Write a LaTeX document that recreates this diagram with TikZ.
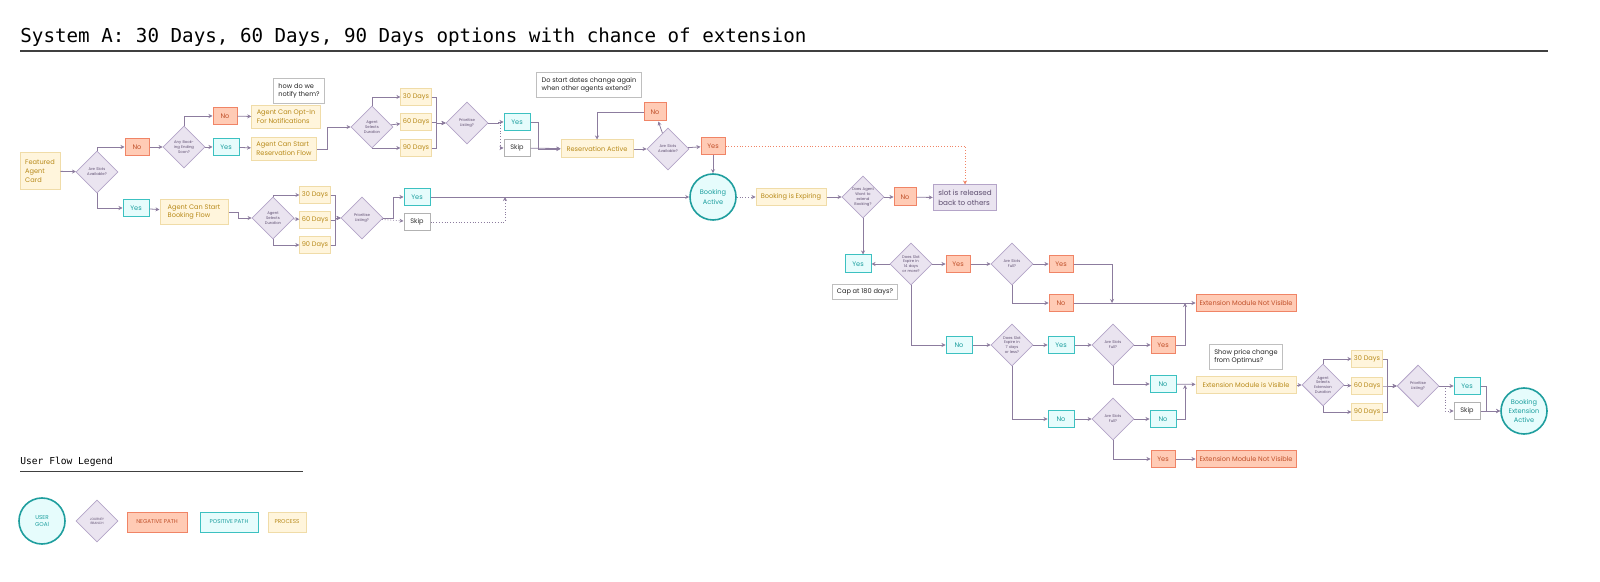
\documentclass[tikz,border=0pt]{standalone}
\usepackage{fontspec}
\setmainfont{Poppins}
\newfontfamily\monofam{DejaVu Sans Mono}
\usetikzlibrary{shapes.geometric,arrows.meta}
\definecolor{lineC}{HTML}{8C7C9E}
\definecolor{negF}{HTML}{FFCBB5}
\definecolor{negD}{HTML}{F08466}
\definecolor{negT}{HTML}{C0502A}
\definecolor{posF}{HTML}{E6FCFC}
\definecolor{posD}{HTML}{3CC1C1}
\definecolor{posT}{HTML}{1A9E9E}
\definecolor{proF}{HTML}{FFF5DC}
\definecolor{proD}{HTML}{F0DCA8}
\definecolor{proT}{HTML}{B88A1A}
\definecolor{diaF}{HTML}{EAE4F0}
\definecolor{diaD}{HTML}{B4A4C8}
\definecolor{diaT}{HTML}{5E4E70}
\definecolor{goalD}{HTML}{1F9E9E}
\tikzset{
  box/.style={rectangle, draw, line width=0.5pt, inner sep=1pt, font=\fontsize{3.3}{4.3}\selectfont, align=left},
  negbox/.style={box, fill=negF, draw=negD, text=negT, minimum width=12pt, minimum height=8.5pt},
  posbox/.style={box, fill=posF, draw=posD, text=posT, minimum width=13pt, minimum height=8.5pt},
  proc/.style={box, fill=proF, draw=proD, text=proT, inner sep=2.5pt},
  days/.style={proc, inner sep=1pt, minimum width=15pt, minimum height=8.5pt},
  skip/.style={box, fill=white, draw=gray!60, text=black!80, minimum width=13pt, minimum height=8.5pt},
  note/.style={box, fill=white, draw=gray!50, text=black!85, inner sep=2.5pt},
  dia/.style={diamond, draw=diaD, fill=diaF, text=diaT, line width=0.4pt, aspect=1, inner sep=0pt,
    minimum size=21pt, text width=11.5pt, align=center, font=\fontsize{1.9}{2.4}\selectfont},
  goal/.style={circle, draw=goalD, fill=posF, text=posT, line width=0.8pt, minimum size=23pt,
    inner sep=0pt, align=center, font=\fontsize{3.3}{4.6}\selectfont},
  flow/.style={draw=lineC, line width=0.4pt, -{Stealth[length=2pt,width=2pt]}},
  dflow/.style={flow, densely dotted},
}
\begin{document}
\begin{tikzpicture}[x=0.5pt, y=-0.5pt]
% title and legend headings
\node[anchor=west, inner sep=0pt, font=\monofam\fontsize{9.6}{11}\selectfont] (title) at (20,37) {System A: 30 Days, 60 Days, 90 Days options with chance of extension};
\draw[black!75, line width=0.6pt] (20,51) -- (1548,51);
\node[anchor=west, inner sep=0pt, font=\monofam\fontsize{4.8}{6}\selectfont] (legtitle) at (20,462) {User Flow Legend};
\draw[black!75, line width=0.5pt] (20,471) -- (303,471);

% reservation path
\node[proc, minimum width=20pt, minimum height=18.5pt] (card) at (40,171) {Featured\\Agent\\Card};
\node[dia] (slots1) at (97,172) {Are Slots Available?};
\node[negbox] (no1) at (137,147) {No};
\node[posbox] (yes1) at (136,208) {Yes};
\node[dia] (ending) at (184,147) {Any Booking Ending Soon?};
\node[negbox] (no2) at (225,116) {No};
\node[posbox] (yes2) at (226,147) {Yes};
\node[proc, minimum width=34pt] (optin) at (286,117) {Agent Can Opt-In\\For Notifications};
\node[proc, minimum width=32pt] (resflow) at (284,149) {Agent Can Start\\Reservation Flow};
\node[note] (notify) at (299,91) {how do we\\notify them?};
\node[dia] (dur1) at (372,127) {Agent Selects Duration};
\node[days] (d30a) at (416,97) {30 Days};
\node[days] (d60a) at (416,122) {60 Days};
\node[days] (d90a) at (416,148) {90 Days};
\node[dia] (prio1) at (467,123) {Prioritise Listing?};
\node[posbox] (yes3) at (517,122) {Yes};
\node[skip] (skip1) at (517,148) {Skip};
\node[proc, inner sep=1pt, minimum width=36pt, minimum height=9pt] (resact) at (597,149) {Reservation Active};
\node[note] (dates) at (589,85) {Do start dates change again\\when other agents extend?};
\node[dia] (slots2) at (668,149) {Are Slots Available?};
\node[negbox, minimum width=11pt, minimum height=9pt] (no3) at (655,112) {No};
\node[negbox] (yes4) at (713,146) {Yes};
\node[goal] (bact) at (713,197) {Booking\\Active};

% booking path
\node[proc, minimum width=34pt] (bflow) at (194,212) {Agent Can Start\\Booking Flow};
\node[dia] (dur2) at (273,218) {Agent Selects Duration};
\node[days] (d30b) at (315,195) {30 Days};
\node[days] (d60b) at (315,220) {60 Days};
\node[days] (d90b) at (315,245) {90 Days};
\node[dia] (prio2) at (362,218) {Prioritise Listing?};
\node[posbox] (yes5) at (417,197) {Yes};
\node[skip] (skip2) at (417,222) {Skip};

% expiry path
\node[proc, inner sep=1pt, minimum width=35pt, minimum height=8.5pt] (expir) at (791,197) {Booking is Expiring};
\node[dia] (extend) at (863,197) {Does Agent Want to extend Booking?};
\node[negbox, minimum width=11pt, minimum height=9pt] (no4) at (905,197) {No};
\node[box, fill=diaF, draw=diaD, text=diaT, inner sep=2.5pt, minimum width=29pt, minimum height=13pt, font=\fontsize{3.6}{4.8}\selectfont] (release) at (965,198) {slot is released\\back to others};
\node[posbox, minimum height=9pt] (yes6) at (858,264) {Yes};
\node[note, inner sep=2pt] (cap) at (865,292) {Cap at 180 days?};
\node[dia] (exp14) at (911,264) {Does Slot Expire in 14 days or more?};
\node[negbox] (yes7) at (958,264) {Yes};
\node[dia] (full1) at (1012,264) {Are Slots Full?};
\node[negbox] (yes8) at (1061,264) {Yes};
\node[negbox] (no5) at (1061,303) {No};
\node[negbox, minimum width=50pt] (notvis1) at (1246,303) {Extension Module Not Visible};
\node[posbox] (no6) at (959,345) {No};
\node[dia] (exp7) at (1012,345) {Does Slot Expire in 7 days or less?};
\node[posbox] (yes9) at (1061,345) {Yes};
\node[dia] (full2) at (1113,345) {Are Slots Full?};
\node[negbox] (yes10) at (1163,345) {Yes};
\node[posbox] (no7) at (1163,384) {No};
\node[proc, inner sep=1pt, minimum width=50pt, minimum height=8.5pt] (vis) at (1246,385) {Extension Module is Visible};
\node[note] (price) at (1246,357) {Show price change\\from Optimus?};
\node[posbox] (no8) at (1061,419) {No};
\node[dia] (full3) at (1113,419) {Are Slots Full?};
\node[posbox] (no9) at (1163,419) {No};
\node[negbox] (yes11) at (1163,459) {Yes};
\node[negbox, minimum width=50pt] (notvis2) at (1246,459) {Extension Module Not Visible};
\node[dia] (dur3) at (1323,385) {Agent Selects Extension Duration};
\node[days] (d30c) at (1367,359) {30 Days};
\node[days] (d60c) at (1367,386) {60 Days};
\node[days] (d90c) at (1367,412) {90 Days};
\node[dia] (prio3) at (1418,386) {Prioritise Listing?};
\node[posbox] (yes12) at (1467,386) {Yes};
\node[skip] (skip3) at (1467,411) {Skip};
\node[goal] (extact) at (1524,411) {Booking\\Extension\\Active};

% legend
\node[goal, font=\fontsize{2.8}{3.8}\selectfont] (lgoal) at (42,521) {USER\\GOAl};
\node[dia, font=\fontsize{1.6}{2.1}\selectfont] (lbranch) at (97,521) {JOURNEY BRANCH};
\node[negbox, minimum width=30pt, minimum height=10pt, font=\fontsize{2.8}{3.5}\selectfont] (lneg) at (157,522) {NEGATIVE PATH};
\node[posbox, minimum width=29pt, minimum height=10pt, font=\fontsize{2.8}{3.5}\selectfont] (lpos) at (229,522) {POSITIVE PATH};
\node[proc, inner sep=1pt, minimum width=19pt, minimum height=10pt, font=\fontsize{2.8}{3.5}\selectfont] (lproc) at (287,522) {PROCESS};

% connectors: reservation path
\draw[flow] (card) -- (slots1);
\draw[flow] (slots1.north) |- (no1);
\draw[flow] (slots1.south) |- (yes1);
\draw[flow] (no1) -- (ending);
\draw[flow] (ending.north) |- (no2);
\draw[flow] (ending) -- (yes2);
\draw[flow] (no2) -- (optin);
\draw[flow] (yes2) -- (resflow);
\draw[flow] (resflow.east) -- ++(10,0) |- (dur1.west);
\draw[flow] (dur1.north) |- (d30a);
\draw[flow] (dur1) -- (d60a);
\draw[flow] (dur1.south) |- (d90a);
\foreach \d in {d30a,d60a,d90a} \draw[flow] (\d.east) -- ++(5,0) |- (prio1.west);
\draw[flow] (prio1.east) -- ++(10,0) |- (yes3.west);
\draw[dflow] (prio1.east) -- ++(12,0) |- (skip1.west);
\draw[flow] (yes3.east) -- ++(8,0) |- (resact.west);
\draw[flow] (skip1) -- (resact);
\draw[flow] (resact) -- (slots2);
\draw[flow] (slots2) -- (no3);
\draw[flow] (no3.west) -| (resact.north);
\draw[flow] (slots2) -- (yes4);
\draw[flow] (yes4) -- (bact);
\draw[dflow, draw=negD] (yes4.east) -| (release.north);

% connectors: booking path
\draw[flow] (yes1) -- (bflow);
\draw[flow] (bflow.east) -- ++(10,0) |- (dur2.west);
\draw[flow] (dur2.north) |- (d30b);
\draw[flow] (dur2) -- (d60b);
\draw[flow] (dur2.south) |- (d90b);
\foreach \d in {d30b,d60b,d90b} \draw[flow] (\d.east) -- ++(5,0) |- (prio2.west);
\draw[flow] (prio2.east) -- ++(10,0) |- (yes5.west);
\draw[dflow] (prio2) -- (skip2);
\draw[flow] (yes5) -- (bact);
\draw[dflow] (skip2.east) -| (505,197);

% connectors: expiry path
\draw[dflow] (bact) -- (expir);
\draw[flow] (expir) -- (extend);
\draw[flow] (extend) -- (no4);
\draw[flow] (no4) -- (release);
\draw[flow] (extend.south) -- (yes6.north -| extend.south);
\draw[flow] (exp14) -- (yes6);
\draw[flow] (exp14) -- (yes7);
\draw[flow] (yes7) -- (full1);
\draw[flow] (full1) -- (yes8);
\draw[flow] (full1.south) |- (no5);
\draw[flow] (yes8.east) -| (1112,303);
\draw[flow] (no5) -- (notvis1);
\draw[flow] (exp14.south) |- (no6);
\draw[flow] (no6) -- (exp7);
\draw[flow] (exp7) -- (yes9);
\draw[flow] (yes9) -- (full2);
\draw[flow] (full2) -- (yes10);
\draw[flow] (yes10.east) -| (1185,303);
\draw[flow] (full2.south) |- (no7);
\draw[flow] (no7) -- (vis);
\draw[flow] (exp7.south) |- (no8);
\draw[flow] (no8) -- (full3);
\draw[flow] (full3) -- (no9);
\draw[flow] (no9.east) -| (1185,385);
\draw[flow] (full3.south) |- (yes11);
\draw[flow] (yes11) -- (notvis2);
\draw[flow] (vis) -- (dur3);
\draw[flow] (dur3.north) |- (d30c);
\draw[flow] (dur3) -- (d60c);
\draw[flow] (dur3.south) |- (d90c);
\foreach \d in {d30c,d60c,d90c} \draw[flow] (\d.east) -- ++(5,0) |- (prio3.west);
\draw[flow] (prio3) -- (yes12);
\draw[dflow] (prio3.east) -- ++(6,0) |- (skip3.west);
\draw[flow] (yes12.east) -- ++(6,0) |- (extact.west);
\draw[flow] (skip3) -- (extact);
\pgfresetboundingbox
\useasboundingbox (0,0) rectangle (1600,582);
\end{tikzpicture}
\end{document}
